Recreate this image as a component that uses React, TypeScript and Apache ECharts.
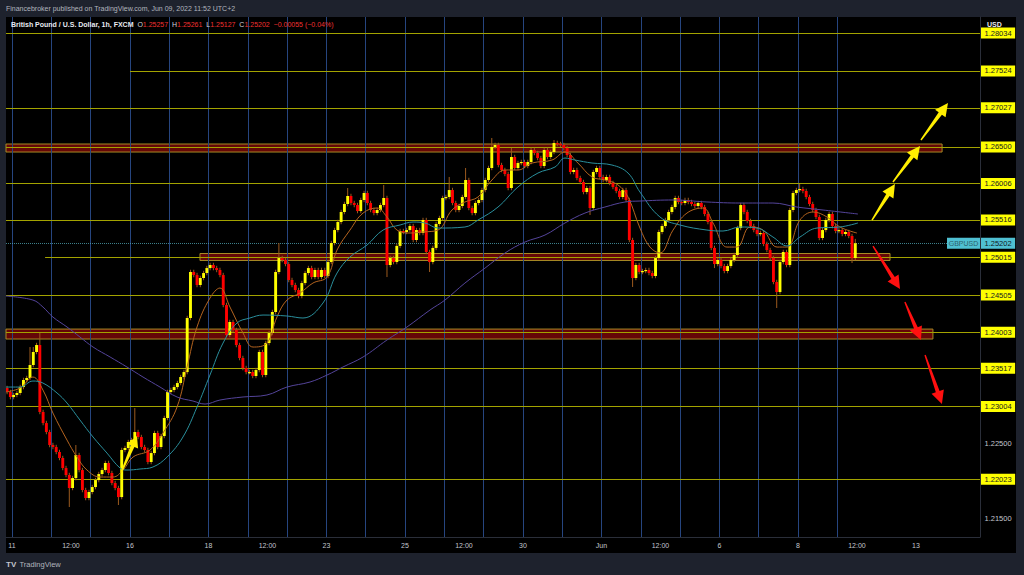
import React, { useEffect, useRef } from 'react';
import * as echarts from 'echarts';

const FONT = '"Liberation Sans", Arial, sans-serif';
const TITLE = 'Financebroker published on TradingView.com, Jun 09, 2022 11:52 UTC+2';
const SYMBOL_NAME = 'British Pound / U.S. Dollar, 1h, FXCM';
const LAST_O = '1.25257';
const LAST_H = '1.25261';
const LAST_L = '1.25127';
const LAST_C = '1.25202';
const LAST_CHG = '\u22120.00055 (\u22120.04%)';

// x unit: trading hours counted from May 11 00:00 (UTC+2); candles are 2-hour bars
const X_MIN = -3.66;
const X_MAX = 591.15;
const Y_MIN = 1.21245;
const Y_MAX = 1.2825;
const FIRST_T = -3;
const STEP = 2;
const FIRST_OPEN = 1.23252;
const WICK = 0.0003;

const closes = [
  1.23198, 1.2313,
  // May 11
  1.23158, 1.23185, 1.23265, 1.2336, 1.23387, 1.23562, 1.23737, 1.23831, 1.22929, 1.2278, 1.22659, 1.22484,
  // May 12
  1.22457, 1.2239, 1.22309, 1.22174, 1.2208, 1.21905, 1.22039, 1.22349, 1.22147, 1.21878, 1.2177, 1.21851,
  // May 13
  1.21918, 1.22012, 1.22093, 1.22147, 1.22242, 1.22107, 1.21972, 1.21905, 1.21783, 1.22417, 1.22444, 1.22524,
  // May 16
  1.22551, 1.22659, 1.22592, 1.22457, 1.22417, 1.22255, 1.22376, 1.22646, 1.22457, 1.22605, 1.22848, 1.23198,
  // May 17
  1.23225, 1.23265, 1.23319, 1.234, 1.23467, 1.24195, 1.24815, 1.24774, 1.2464, 1.24734, 1.24801, 1.24868,
  // May 18
  1.24909, 1.24868, 1.24842, 1.24774, 1.2437, 1.23966, 1.24141, 1.24033, 1.23831, 1.23656, 1.23521, 1.23467,
  // May 19
  1.23467, 1.23414, 1.23494, 1.23737, 1.23427, 1.23858, 1.23993, 1.24276, 1.24815, 1.25003, 1.24976, 1.24922,
  // May 20
  1.24707, 1.2464, 1.24572, 1.24491, 1.24666, 1.24801, 1.24868, 1.24747, 1.24842, 1.24747, 1.24842, 1.24761,
  // May 23
  1.24949, 1.25205, 1.2538, 1.25488, 1.25623, 1.25731, 1.25839, 1.25744, 1.25717, 1.25636, 1.25785, 1.25879,
  // May 24
  1.25744, 1.2565, 1.25609, 1.2565, 1.25717, 1.25812, 1.24909, 1.25003, 1.24949, 1.25166, 1.25367, 1.25354,
  // May 25
  1.2538, 1.25434, 1.25246, 1.2538, 1.2534, 1.25515, 1.25084, 1.24949, 1.25139, 1.25461, 1.25542, 1.25812,
  // May 26
  1.25825, 1.25919, 1.25744, 1.2565, 1.25704, 1.25825, 1.26054, 1.25677, 1.25609, 1.25744, 1.25785, 1.25919,
  // May 27
  1.26054, 1.26216, 1.26499, 1.26526, 1.26256, 1.26189, 1.26135, 1.25946, 1.26364, 1.26216, 1.26283, 1.26297,
  // May 30
  1.26243, 1.26297, 1.26458, 1.26418, 1.2635, 1.26243, 1.26458, 1.26364, 1.26431, 1.26553, 1.26539, 1.26526,
  // May 31
  1.26485, 1.26391, 1.26162, 1.26189, 1.26081, 1.26027, 1.25892, 1.25946, 1.25677, 1.26162, 1.26216, 1.26095,
  // Jun 1
  1.26054, 1.26095, 1.26014, 1.2596, 1.25906, 1.25825, 1.25919, 1.25785, 1.25246, 1.24734, 1.24909, 1.24815,
  // Jun 2
  1.24828, 1.24842, 1.24801, 1.24761, 1.25003, 1.25354, 1.25434, 1.25515, 1.25623, 1.2569, 1.25812, 1.25758,
  // Jun 3
  1.25744, 1.25785, 1.25758, 1.25731, 1.25704, 1.25744, 1.2569, 1.25596, 1.25488, 1.25139, 1.24922, 1.24976,
  // Jun 6
  1.24895, 1.24828, 1.24895, 1.24976, 1.25044, 1.25407, 1.25717, 1.25623, 1.25502, 1.25434, 1.2538, 1.25327,
  // Jun 7
  1.2534, 1.25193, 1.25111, 1.25003, 1.2468, 1.24545, 1.24949, 1.25084, 1.24909, 1.2565, 1.25879, 1.25919,
  // Jun 8
  1.25933, 1.25906, 1.25825, 1.25731, 1.2565, 1.25556, 1.25273, 1.2538, 1.25515, 1.25596, 1.25434, 1.25367,
  // Jun 9
  1.2538, 1.25327, 1.25354, 1.253, 1.25003, 1.25202,
];

const highOverrides: Record<number, number> = {
  7: 1.23804, 8: 1.23804, 10: 1.23993, 21: 1.22484, 39: 1.22982, 83: 1.25205,
  104: 1.25946, 115: 1.25987, 135: 1.26095, 140: 1.26216, 148: 1.2662, 154: 1.26485,
  167: 1.26593, 242: 1.26, 259: 1.25261,
};
const lowOverrides: Record<number, number> = {
  19: 1.21649, 34: 1.21676, 116: 1.24747, 129: 1.24815, 178: 1.25583, 191: 1.24613,
  216: 1.24868, 235: 1.2433, 258: 1.24936,
};

const maFast = [
  [-3.7, 1.23198], [4.9, 1.23252], [12.8, 1.234], [18.9, 1.23225], [25.0, 1.22915], [33.6, 1.22551],
  [39.7, 1.22322], [45.8, 1.22147], [53.7, 1.22053], [61.7, 1.22053], [67.8, 1.22147], [73.9, 1.22322],
  [84.3, 1.22417], [92.2, 1.22646], [100.8, 1.22996], [106.9, 1.23535], [113.0, 1.24074], [120.9, 1.24464],
  [127.0, 1.24599], [133.1, 1.24343], [141.1, 1.23993], [147.2, 1.23804], [155.7, 1.23858], [161.8, 1.24208],
  [167.9, 1.24437], [175.9, 1.24532], [183.8, 1.24666], [192.4, 1.24747], [198.5, 1.25111], [206.4, 1.2538],
  [214.4, 1.25609], [222.9, 1.25677], [229.0, 1.25556], [235.1, 1.2538], [243.1, 1.2534], [251.0, 1.25354],
  [260.2, 1.2538], [268.7, 1.2565], [276.6, 1.25758], [284.6, 1.25825], [293.1, 1.26054], [301.1, 1.26189],
  [309.0, 1.26189], [317.6, 1.26283], [329.8, 1.26323], [337.7, 1.26431], [345.6, 1.26283], [354.2, 1.26095],
  [362.1, 1.26054], [370.1, 1.25987], [376.2, 1.25825], [383.5, 1.25407], [389.6, 1.25151], [395.7, 1.25071],
  [403.7, 1.2538], [412.2, 1.25609], [422.0, 1.25677], [428.1, 1.25475], [436.6, 1.25151], [442.7, 1.25151],
  [450.7, 1.25421], [458.6, 1.2538], [467.2, 1.25151], [473.3, 1.25151], [481.2, 1.25515], [489.2, 1.25623],
  [497.7, 1.25556], [505.6, 1.25421], [516.0, 1.2534],
];
const maMid = [
  [-3.7, 1.23265], [4.9, 1.23265], [12.8, 1.23346], [18.9, 1.23319], [27.5, 1.23185], [33.6, 1.2305],
  [41.5, 1.22821], [49.5, 1.22592], [58.0, 1.22376], [66.0, 1.22174], [70.2, 1.22147], [78.2, 1.22161],
  [86.1, 1.22188], [94.7, 1.22322], [104.4, 1.22592], [113.0, 1.22996], [120.9, 1.23427], [128.9, 1.23858],
  [137.4, 1.24128], [145.3, 1.24195], [153.3, 1.24235], [167.9, 1.24222], [177.7, 1.24195], [189.9, 1.24397],
  [198.5, 1.24801], [206.4, 1.25017], [216.8, 1.25178], [226.6, 1.2538], [237.0, 1.25448], [244.9, 1.25488],
  [252.2, 1.25475], [260.2, 1.25407], [276.6, 1.25421], [284.6, 1.25515], [296.8, 1.2569], [309.0, 1.2596],
  [321.2, 1.26148], [331.6, 1.26229], [337.7, 1.2635], [343.8, 1.26323], [354.2, 1.26283], [366.4, 1.26256],
  [376.2, 1.26148], [383.5, 1.25892], [395.7, 1.25556], [407.9, 1.25448], [424.4, 1.2538], [434.2, 1.25367],
  [444.6, 1.25421], [455.0, 1.25407], [464.7, 1.25286], [473.3, 1.25166], [481.2, 1.25286], [491.6, 1.25407],
  [505.6, 1.25421], [516.6, 1.25475],
];
const maSlow = [
  [-3.7, 1.24491], [12.8, 1.24437], [18.9, 1.24343], [25.0, 1.24208], [33.6, 1.24074], [41.5, 1.23939],
  [49.5, 1.23804], [59.9, 1.2367], [70.2, 1.23535], [80.0, 1.234], [90.4, 1.23265], [100.8, 1.23131],
  [110.5, 1.23077], [117.9, 1.23036], [127.0, 1.2309], [141.1, 1.23131], [155.7, 1.23158], [167.9, 1.23265],
  [182.0, 1.23333], [192.4, 1.23427], [202.1, 1.23535], [214.4, 1.2367], [229.0, 1.23899], [241.2, 1.24074],
  [255.3, 1.24303], [264.4, 1.24437], [276.6, 1.24666], [288.9, 1.24868], [301.1, 1.25071], [313.3, 1.25219],
  [325.5, 1.25313], [337.7, 1.25475], [349.9, 1.25609], [362.1, 1.2569], [374.4, 1.25758], [383.5, 1.25771],
  [403.7, 1.25785], [424.4, 1.25758], [444.6, 1.25744], [464.7, 1.25744], [479.4, 1.2569], [495.3, 1.2565],
  [516.6, 1.25596],
];

const timeTicks = [0, 36, 72, 120, 156, 192, 240, 276, 312, 360, 396, 432, 480, 516, 552];
const timeLabels = ['11', '12:00', '16', '18', '12:00', '23', '25', '12:00', '30', 'Jun', '12:00', '6', '8', '12:00', '13'];
const dayLines = [0, 24, 48, 72, 96, 120, 144, 168, 192, 216, 240, 264, 288, 312, 336, 360, 384, 408, 432, 456, 480, 504];

const levelPrices = [1.28034, 1.27524, 1.27027, 1.265, 1.26006, 1.25516, 1.25015, 1.24505, 1.24003, 1.23517, 1.23004, 1.22023];
const levelStarts = [X_MIN, 72.1, X_MIN, X_MIN, X_MIN, X_MIN, 20.2, X_MIN, X_MIN, X_MIN, X_MIN, X_MIN];
const plainAxisPrices = [1.225, 1.215];
const CURRENT_PRICE = 1.25202;

const zoneFrom = [X_MIN, 114.8, X_MIN];
const zoneTo = [568, 536.2, 562.4];
const zoneTop = [1.26539, 1.25064, 1.24046];
const zoneBottom = [1.26431, 1.2497, 1.23912];

const upArrows = [
  [[525.2, 1.25515], [539.2, 1.26]],
  [[538.0, 1.26027], [554.5, 1.26512]],
  [[555.1, 1.26593], [571.6, 1.27091]],
  [[66.6, 1.22107], [76.3, 1.22605]],
];
const downArrows = [
  [[525.8, 1.25165], [542.3, 1.24586]],
  [[545.3, 1.24411], [555.1, 1.23899]],
  [[557.6, 1.23697], [567.9, 1.23037]],
];

const UP = '#ffff00';
const DOWN = '#ff0000';
const WICK_COLOR = '#9c5a1e';
const LEVEL_COLOR = '#a3a300';
const GRID_COLOR = '#26457f';

function arrowPoints(T: number[], H: number[], headLen: number, headHalf: number, neckHalf: number, tailHalf: number) {
  const dx = H[0] - T[0];
  const dy = H[1] - T[1];
  const len = Math.hypot(dx, dy) || 1;
  const ux = dx / len, uy = dy / len;
  const nx = -uy, ny = ux;
  const bx = H[0] - ux * headLen, by = H[1] - uy * headLen;
  return [
    [T[0] + nx * tailHalf, T[1] + ny * tailHalf],
    [bx + nx * neckHalf, by + ny * neckHalf],
    [bx + nx * headHalf, by + ny * headHalf],
    [H[0], H[1]],
    [bx - nx * headHalf, by - ny * headHalf],
    [bx - nx * neckHalf, by - ny * neckHalf],
    [T[0] - nx * tailHalf, T[1] - ny * tailHalf],
  ];
}

export default function App() {
  const ref = useRef<HTMLDivElement>(null);
  useEffect(() => {
    if (!ref.current) return;
    const chart = echarts.init(ref.current, undefined, { renderer: 'svg' });

    const candles = closes.map((c, i) => {
      const o = i === 0 ? FIRST_OPEN : closes[i - 1];
      const hi = highOverrides[i] !== undefined ? highOverrides[i] : Math.max(o, c) + WICK;
      const lo = lowOverrides[i] !== undefined ? lowOverrides[i] : Math.min(o, c) - WICK;
      return [FIRST_T + i * STEP, o, c, lo, hi];
    });

    const priceLabel = (bg: string, color: string) => ({
      show: true,
      position: 'end',
      distance: 1,
      backgroundColor: bg,
      color,
      fontSize: 7.5,
      fontFamily: FONT,
      padding: [2, 3.5, 1, 3.5],
      formatter: (p: any) => p.value.toFixed(5),
    });

    const markLineData: any[] = [];
    dayLines.forEach((t) => {
      markLineData.push({ xAxis: t, lineStyle: { color: GRID_COLOR, width: 1, type: 'solid' }, label: { show: false } });
    });
    levelPrices.forEach((p, i) => {
      markLineData.push([
        { coord: [levelStarts[i], p], value: p, lineStyle: { color: LEVEL_COLOR, width: 1, type: 'solid' }, label: priceLabel('#ffff00', '#131722') },
        { coord: [X_MAX, p] },
      ]);
    });
    markLineData.push([
      { coord: [X_MIN, CURRENT_PRICE], value: CURRENT_PRICE, lineStyle: { color: 'rgba(80,170,185,0.75)', width: 1, type: 'dotted' }, label: priceLabel('#4fc0d2', '#131722') },
      { coord: [X_MAX, CURRENT_PRICE] },
    ]);
    plainAxisPrices.forEach((p) => {
      markLineData.push([
        { coord: [X_MAX - 1, p], value: p, lineStyle: { color: 'rgba(0,0,0,0)', width: 1 }, label: priceLabel('rgba(0,0,0,0)', '#c3c6ce') },
        { coord: [X_MAX, p] },
      ]);
    });

    const markAreaData = zoneFrom.map((f, i) => [
      { coord: [f, zoneTop[i]], itemStyle: { color: 'rgba(115,8,8,0.88)', borderColor: '#a88a24', borderWidth: 1 } },
      { coord: [zoneTo[i], zoneBottom[i]] },
    ]);

    const option: any = {
      animation: false,
      backgroundColor: 'transparent',
      grid: { left: 6, right: 44, top: 17, bottom: 38 },
      xAxis: {
        type: 'value',
        min: X_MIN,
        max: X_MAX,
        axisLine: { show: true, onZero: false, lineStyle: { color: '#2a2e39' } },
        axisTick: { show: false },
        splitLine: { show: false },
        axisLabel: {
          customValues: timeTicks,
          formatter: (v: number) => {
            const i = timeTicks.indexOf(v);
            return i >= 0 ? timeLabels[i] : '';
          },
          color: '#c3c6ce',
          fontSize: 7,
          fontFamily: FONT,
          margin: 5,
        },
      },
      yAxis: {
        type: 'value',
        position: 'right',
        min: Y_MIN,
        max: Y_MAX,
        scale: true,
        axisLine: { show: true, onZero: false, lineStyle: { color: '#2a2e39' } },
        axisTick: { show: false },
        axisLabel: { show: false },
        splitLine: { show: false },
      },
      series: [
        {
          type: 'line',
          name: 'drawings',
          data: [[X_MIN, Y_MIN - 1]],
          symbol: 'none',
          lineStyle: { opacity: 0 },
          silent: true,
          z: 1,
          markLine: { symbol: ['none', 'none'], silent: true, animation: false, data: markLineData },
          markArea: { silent: true, animation: false, data: markAreaData },
        },
        {
          type: 'custom',
          name: 'GBPUSD',
          z: 10,
          clip: true,
          encode: { x: 0, y: [1, 2, 3, 4] },
          data: candles,
          renderItem: (params: any, api: any) => {
            const t = api.value(0);
            const o = api.value(1);
            const c = api.value(2);
            const l = api.value(3);
            const h = api.value(4);
            const pO = api.coord([t, o]);
            const pC = api.coord([t, c]);
            const pL = api.coord([t, l]);
            const pH = api.coord([t, h]);
            const w = 2.9;
            const x = pO[0];
            const top = Math.min(pO[1], pC[1]);
            const bot = Math.max(pO[1], pC[1]);
            return {
              type: 'group',
              children: [
                { type: 'line', shape: { x1: x, y1: pH[1], x2: x, y2: pL[1] }, style: { stroke: WICK_COLOR, lineWidth: 1 } },
                { type: 'rect', shape: { x: x - w / 2, y: top, width: w, height: Math.max(bot - top, 1.2) }, style: { fill: c >= o ? UP : DOWN } },
              ],
            };
          },
        },
        { type: 'line', name: 'MA fast', data: maFast, smooth: 0.4, symbol: 'none', z: 11, lineStyle: { color: '#b5641f', width: 1 } },
        { type: 'line', name: 'MA mid', data: maMid, smooth: 0.4, symbol: 'none', z: 11, lineStyle: { color: '#2a8f9c', width: 1 } },
        { type: 'line', name: 'MA slow', data: maSlow, smooth: 0.4, symbol: 'none', z: 11, lineStyle: { color: '#54449a', width: 1 } },
      ],
    };
    chart.setOption(option);

    const toPx = (pt: number[]) => chart.convertToPixel({ gridIndex: 0 }, pt) as number[];
    const graphics: any[] = [];
    upArrows.forEach((a, i) => {
      const T = toPx(a[0]);
      const H = toPx(a[1]);
      const small = i === 3;
      graphics.push({
        type: 'polygon',
        z: 100,
        silent: true,
        shape: { points: arrowPoints(T, H, small ? 11 : 13, small ? 6 : 6.5, 2, 0.7) },
        style: { fill: '#ffee00' },
      });
    });
    downArrows.forEach((a) => {
      const T = toPx(a[0]);
      const H = toPx(a[1]);
      graphics.push({
        type: 'polygon',
        z: 100,
        silent: true,
        shape: { points: arrowPoints(T, H, 13, 6.5, 2, 0.7) },
        style: { fill: '#ff1010' },
      });
    });
    const cp = toPx([X_MAX, CURRENT_PRICE]);
    graphics.push({
      type: 'group',
      z: 100,
      children: [
        { type: 'rect', shape: { x: cp[0] - 33, y: cp[1] - 5.5, width: 33, height: 11 }, style: { fill: '#4fc0d2' } },
        { type: 'text', x: cp[0] - 16.5, y: cp[1] + 0.5, style: { text: 'GBPUSD', fill: '#2a5e69', font: `7px ${FONT}`, align: 'center', verticalAlign: 'middle' } },
      ],
    });
    graphics.push({
      type: 'text', x: 6, y: 8.5, z: 100,
      style: { text: TITLE, fill: '#b2b5be', font: `7px ${FONT}`, verticalAlign: 'middle' },
    });
    graphics.push({
      type: 'text', x: 11, y: 24, z: 100,
      style: {
        text: `{n|${SYMBOL_NAME}}  {k|O}{v|${LAST_O}}  {k|H}{v|${LAST_H}}  {k|L}{v|${LAST_L}}  {k|C}{v|${LAST_C}}  {v|${LAST_CHG}}`,
        verticalAlign: 'middle',
        font: `7px ${FONT}`,
        fill: '#d1d4dc',
        rich: {
          n: { fill: '#e8eaf0', fontSize: 7, fontWeight: 'bold', fontFamily: FONT },
          k: { fill: '#d1d4dc', fontSize: 7, fontFamily: FONT },
          v: { fill: '#f03030', fontSize: 7, fontFamily: FONT },
        },
      },
    });
    graphics.push({
      type: 'text', x: 987, y: 24, z: 100,
      style: { text: 'USD', fill: '#e8eaf0', font: `bold 7px ${FONT}`, verticalAlign: 'middle' },
    });
    graphics.push({
      type: 'text', x: 6, y: 564.5, z: 100,
      style: { text: 'TV', fill: '#c3c6ce', font: `bold 8px ${FONT}`, verticalAlign: 'middle' },
    });
    graphics.push({
      type: 'text', x: 19.5, y: 564.5, z: 100,
      style: { text: 'TradingView', fill: '#b2b5be', font: `7.5px ${FONT}`, verticalAlign: 'middle' },
    });
    chart.setOption({ graphic: { elements: graphics } });

    return () => chart.dispose();
  }, []);

  return (
    <div style={{ position: 'fixed', left: 0, top: 0, width: 1024, height: 575, background: '#1e222d', overflow: 'hidden' }}>
      <div style={{ position: 'absolute', left: 6, top: 17, width: 1010, height: 536, background: '#000' }} />
      <div ref={ref} style={{ position: 'absolute', left: 0, top: 0, width: 1024, height: 575 }} />
    </div>
  );
}
